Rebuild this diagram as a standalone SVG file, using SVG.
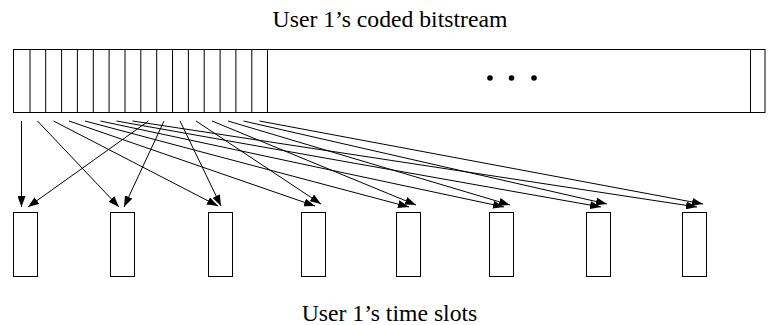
<svg xmlns="http://www.w3.org/2000/svg" width="768" height="325" viewBox="0 0 768 325">
<style>
.box{fill:#fff;stroke:#000;stroke-width:1}
.div{stroke:#000;stroke-width:1}
.arr{stroke:#000;stroke-width:1;fill:none;marker-end:url(#ah)}
.lbl{font-family:"Liberation Serif","Times New Roman",serif;font-size:23.7px;fill:#000;text-anchor:middle}
</style>
<defs>
<marker id="ah" markerUnits="userSpaceOnUse" markerWidth="11" markerHeight="8" refX="11" refY="4" orient="auto">
<path d="M0,0 L11,4 L0,8 z" fill="#000"/>
</marker>
</defs>
<text class="lbl" x="390" y="27">User 1’s coded bitstream</text>
<g id="bitstream">
<rect class="box" x="13.5" y="49.5" width="751.5" height="63"/>
<path class="div" d="M30,49.5V112.5 M45.7,49.5V112.5 M61.6,49.5V112.5 M77.4,49.5V112.5 M93.3,49.5V112.5 M109.1,49.5V112.5 M125,49.5V112.5 M140.8,49.5V112.5 M156.7,49.5V112.5 M172.5,49.5V112.5 M188.4,49.5V112.5 M204.2,49.5V112.5 M220.1,49.5V112.5 M235.9,49.5V112.5 M251.8,49.5V112.5 M267.5,49.5V112.5 M750.5,49.5V112.5"/>
<circle cx="490" cy="78" r="2.8" fill="#000"/>
<circle cx="511.5" cy="78" r="2.8" fill="#000"/>
<circle cx="534" cy="78" r="2.8" fill="#000"/>
</g>
<g id="slot1"><rect class="box" x="13.5" y="212.5" width="24" height="64"/></g>
<g id="slot2"><rect class="box" x="110.5" y="212.5" width="24" height="64"/></g>
<g id="slot3"><rect class="box" x="208.5" y="212.5" width="24" height="64"/></g>
<g id="slot4"><rect class="box" x="301.5" y="212.5" width="24" height="64"/></g>
<g id="slot5"><rect class="box" x="396.5" y="212.5" width="24" height="64"/></g>
<g id="slot6"><rect class="box" x="489.5" y="212.5" width="24" height="64"/></g>
<g id="slot7"><rect class="box" x="586.5" y="212.5" width="24" height="64"/></g>
<g id="slot8"><rect class="box" x="682.5" y="212.5" width="24" height="64"/></g>
<g id="connectors">
<line class="arr" x1="21.5" y1="121" x2="21.5" y2="207"/>
<line class="arr" x1="148.5" y1="121" x2="28" y2="207"/>
<line class="arr" x1="37.5" y1="121" x2="119" y2="207"/>
<line class="arr" x1="164" y1="121" x2="124" y2="207"/>
<line class="arr" x1="53.5" y1="121" x2="218" y2="206"/>
<line class="arr" x1="180" y1="121" x2="221" y2="206"/>
<line class="arr" x1="69" y1="121" x2="315" y2="206"/>
<line class="arr" x1="196" y1="121" x2="321" y2="204"/>
<line class="arr" x1="85" y1="121" x2="409" y2="207"/>
<line class="arr" x1="212" y1="121" x2="416" y2="205"/>
<line class="arr" x1="100.5" y1="121" x2="504" y2="207"/>
<line class="arr" x1="228" y1="121" x2="510" y2="205"/>
<line class="arr" x1="116.5" y1="121" x2="601" y2="207"/>
<line class="arr" x1="243.5" y1="121" x2="607" y2="204"/>
<line class="arr" x1="132.5" y1="121" x2="697" y2="207"/>
<line class="arr" x1="259.5" y1="121" x2="703" y2="204"/>
</g>
<text class="lbl" x="389.5" y="321">User 1’s time slots</text>
</svg>
